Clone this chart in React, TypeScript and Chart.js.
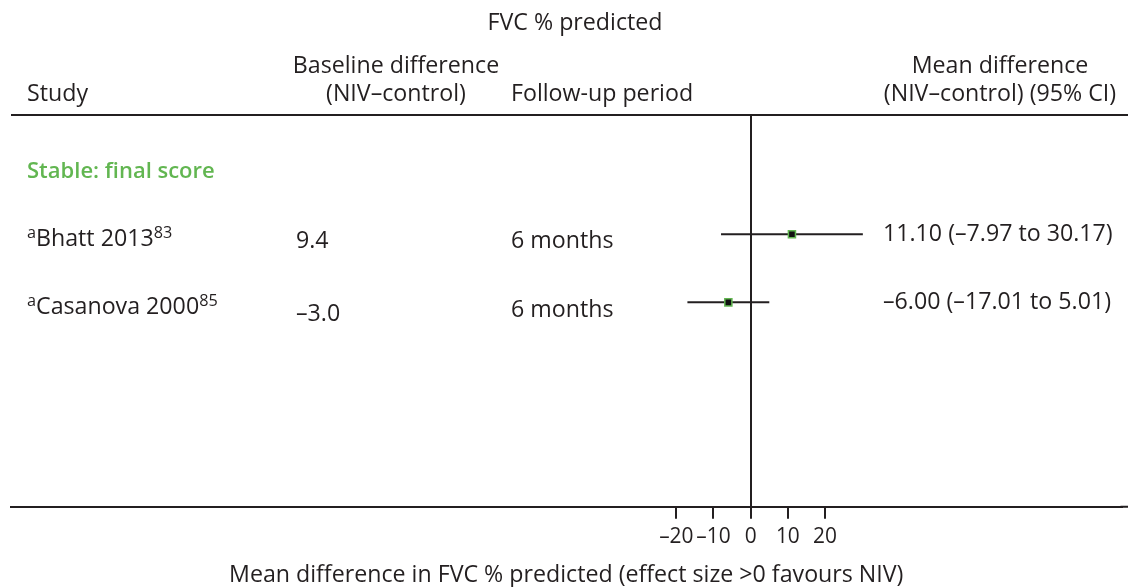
import React, { useEffect, useRef } from "react";
import { Chart, registerables } from "chart.js";

Chart.register(...registerables);

// ---- data ----
const groupLabel = "Stable: final score";
const studyPrefix = ["a", "a"];
const studyNames = ["Bhatt 2013", "Casanova 2000"];
const studyRefs = ["83", "85"];
const baselineDiff = ["9.4", "\u20133.0"];
const followUp = ["6 months", "6 months"];
const meanDiff = [11.1, -6.0];
const ciLow = [-7.97, -17.01];
const ciHigh = [30.17, 5.01];
const studyRows = [1, 2];
const xTicks = [-20, -10, 0, 10, 20];
const chartTitle = "FVC % predicted";
const axisTitle = "Mean difference in FVC % predicted (effect size >0 favours NIV)";

const FONT = '"Open Sans", "Noto Sans", sans-serif';
const INK = "#231f20";
const GREEN = "#62b651";

const fmt = (v: number, d: number) => (v < 0 ? "\u2013" : "") + Math.abs(v).toFixed(d);

export default function App() {
  const ref = useRef<HTMLCanvasElement | null>(null);
  useEffect(() => {
    if (!ref.current) return;
    const m = document.createElement("canvas").getContext("2d")!;
    m.font = `100px ${FONT}`;
    const fs = Math.round(((100 * 675) / m.measureText(axisTitle).width) * 10) / 10;
    m.font = `600 100px ${FONT}`;
    const fsBold = Math.min(fs, Math.round(((100 * 188) / m.measureText(groupLabel).width) * 10) / 10);

    const textPlugin = {
      id: "forestText",
      afterDraw(chart: any) {
        const { ctx, chartArea, scales } = chart;
        const y = scales.y;
        ctx.save();
        ctx.strokeStyle = INK;
        ctx.lineWidth = 2;
        ctx.beginPath();
        ctx.moveTo(chartArea.left, chartArea.top);
        ctx.lineTo(chart.width, chartArea.top);
        ctx.moveTo(chartArea.right - 1, chartArea.bottom);
        ctx.lineTo(chart.width, chartArea.bottom);
        ctx.stroke();

        const f = `${fs}px ${FONT}`;
        const fSmall = `${fs * 0.7}px ${FONT}`;
        ctx.fillStyle = INK;
        ctx.textBaseline = "alphabetic";
        const put = (t: string, x: number, yy: number, align: CanvasTextAlign, font = f) => {
          ctx.font = font;
          ctx.textAlign = align;
          ctx.fillText(t, x, yy);
        };
        put(chartTitle, 575, 30, "center");
        put("Study", 27, 101, "left");
        put("Baseline difference", 396, 73, "center");
        put("(NIV\u2013control)", 396, 101, "center");
        put("Follow-up period", 511, 101, "left");
        put("Mean difference", 1000, 73, "center");
        put("(NIV\u2013control) (95% CI)", 1000, 101, "center");

        ctx.fillStyle = GREEN;
        put(groupLabel, 27, 178, "left", `600 ${fsBold}px ${FONT}`);
        ctx.fillStyle = INK;

        studyNames.forEach((name, i) => {
          const py = y.getPixelForValue(studyRows[i]);
          let x = 27;
          const base = py + 12;
          ctx.textAlign = "left";
          ctx.font = fSmall;
          ctx.fillText(studyPrefix[i], x, base - 8);
          x += ctx.measureText(studyPrefix[i]).width;
          ctx.font = f;
          ctx.fillText(name, x, base);
          x += ctx.measureText(name).width;
          ctx.font = fSmall;
          ctx.fillText(studyRefs[i], x, base - 8);

          put(baselineDiff[i], 296, py + 14 + i * 5, "left");
          put(followUp[i], 511, py + 14 + i, "left");
          const ci = `${fmt(meanDiff[i], 2)} (${fmt(ciLow[i], 2)} to ${fmt(ciHigh[i], 2)})`;
          put(ci, 883, py + 7, "left");
        });
        ctx.restore();
      },
    };

    const datasets: any[] = [
      {
        type: "scatter",
        data: meanDiff.map((v, i) => ({ x: v, y: studyRows[i] })),
        pointStyle: "rect",
        pointRadius: 5,
        backgroundColor: "#111",
        borderColor: GREEN,
        borderWidth: 1.5,
      },
      ...studyNames.map((_, i) => ({
        type: "line",
        data: [
          { x: ciLow[i], y: studyRows[i] },
          { x: ciHigh[i], y: studyRows[i] },
        ],
        borderColor: INK,
        borderWidth: 2,
        pointRadius: 0,
        showLine: true,
        fill: false,
      })),
    ];

    const chart = new Chart(ref.current, {
      type: "scatter",
      data: { datasets },
      options: {
        animation: false,
        responsive: true,
        maintainAspectRatio: false,
        layout: { padding: { top: 115, left: 11, right: 0, bottom: 0 } },
        plugins: { legend: { display: false }, tooltip: { enabled: false }, title: { display: false } },
        scales: {
          x: {
            type: "linear",
            position: "bottom",
            min: -198.92,
            max: 99.73,
            afterBuildTicks: (axis: any) => {
              axis.ticks = xTicks.map((v) => ({ value: v }));
            },
            ticks: {
              autoSkip: false,
              maxRotation: 0,
              padding: 6,
              color: INK,
              font: { family: FONT, size: Math.round(fs * 0.9 * 10) / 10 },
              callback: (v: any) => fmt(Number(v), 0),
            },
            grid: {
              drawOnChartArea: true,
              color: (c: any) => (c.tick && c.tick.value === 0 ? INK : "rgba(0,0,0,0)"),
              lineWidth: 2,
              tickLength: 12,
              tickColor: INK,
              tickWidth: 2,
            },
            border: { display: true, color: INK, width: 2 },
            title: {
              display: true,
              text: axisTitle,
              color: INK,
              font: { family: FONT, size: fs, lineHeight: 1.0 },
              padding: { top: 8, bottom: 0 },
            },
          },
          y: { display: false, min: -0.75, max: 5, reverse: true },
        },
      } as any,
      plugins: [textPlugin],
    });
    return () => chart.destroy();
  }, []);

  return (
    <div style={{ position: "fixed", left: 0, top: 0, width: 1128, height: 587, background: "#fff" }}>
      <canvas ref={ref} />
    </div>
  );
}
